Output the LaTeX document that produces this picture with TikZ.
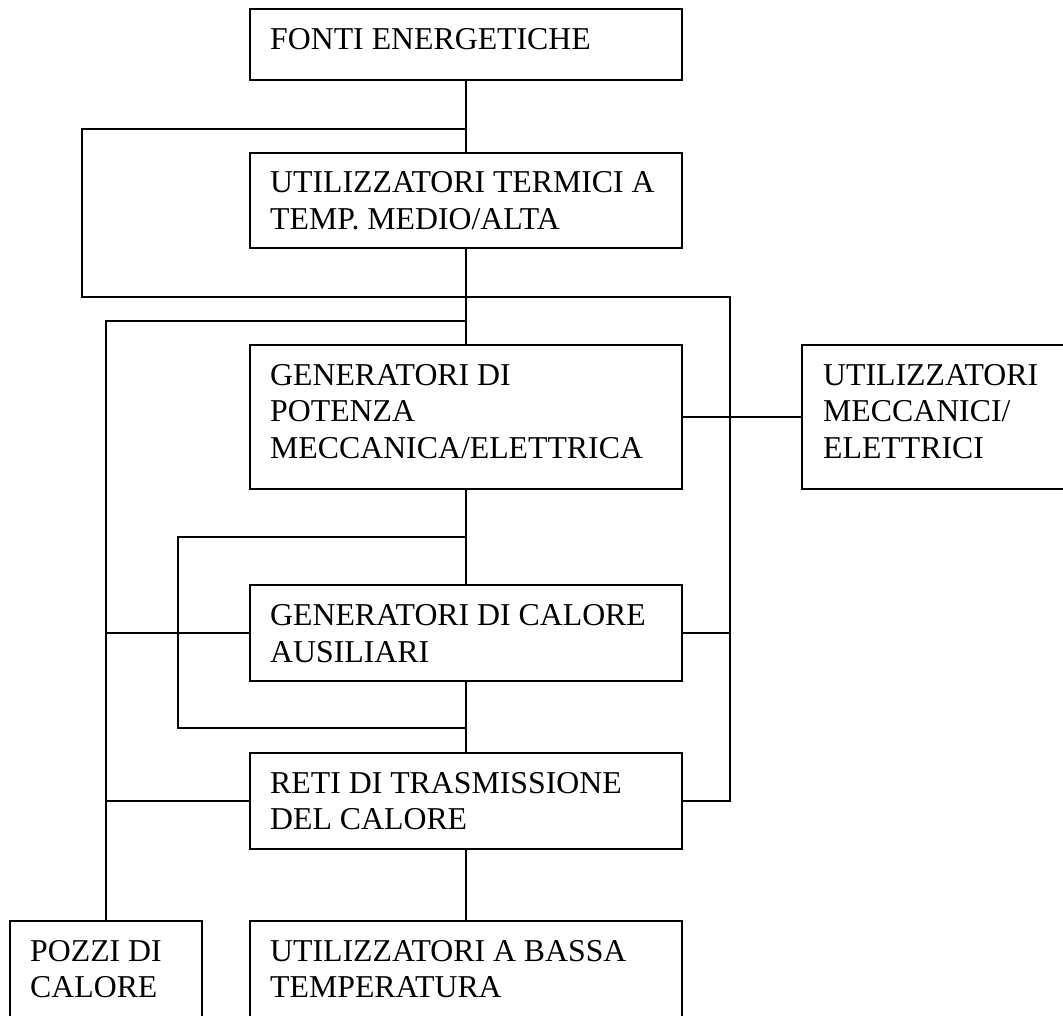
\documentclass[tikz,border=0pt]{standalone}
\usepackage{fontspec}
\setmainfont{Liberation Serif}
\begin{document}
\begin{tikzpicture}[x=1pt, y=-1pt,
  box/.style={draw, line width=1.6pt, inner sep=0pt, outer sep=0pt, anchor=north west},
  txt/.style={anchor=base west, align=left, inner sep=0pt,
              font=\fontsize{31.8}{36.7}\selectfont},
  link/.style={line width=1.6pt}]
  \useasboundingbox (0,0) rectangle (1063,1016);
  \clip (0,0) rectangle (1063,1016);

  % boxes (top-left corner, size)
  \node[box, minimum width=432pt, minimum height=71pt]  (fonti)  at (250,9)   {};
  \node[box, minimum width=432pt, minimum height=95pt]  (term)   at (250,153) {};
  \node[box, minimum width=432pt, minimum height=144pt] (genpot) at (250,345) {};
  \node[box, minimum width=280pt, minimum height=144pt] (mecc)   at (802,345) {};
  \node[box, minimum width=432pt, minimum height=96pt]  (gencal) at (250,585) {};
  \node[box, minimum width=432pt, minimum height=96pt]  (reti)   at (250,753) {};
  \node[box, minimum width=192pt, minimum height=120pt] (pozzi)  at (10,921)  {};
  \node[box, minimum width=432pt, minimum height=120pt] (bassa)  at (250,921) {};

  % labels, placed by the baseline of their last line
  \node[txt] (fonti-t)  at (270,50)    {FONTI ENERGETICHE};
  \node[txt] (term-t)   at (270,229.7) {UTILIZZATORI TERMICI A\\TEMP. MEDIO/ALTA};
  \node[txt] (genpot-t) at (270,458.4) {GENERATORI DI\\POTENZA\\MECCANICA/ELETTRICA};
  \node[txt] (mecc-t)   at (823,458.4) {UTILIZZATORI\\MECCANICI/\\ELETTRICI};
  \node[txt] (gencal-t) at (270,662)   {GENERATORI DI CALORE\\AUSILIARI};
  \node[txt] (reti-t)   at (270,829.7) {RETI DI TRASMISSIONE\\DEL CALORE};
  \node[txt] (pozzi-t)  at (30,997.7)  {POZZI DI\\CALORE};
  \node[txt] (bassa-t)  at (270,997.7) {UTILIZZATORI A BASSA\\TEMPERATURA};

  % junction points on the main trunk
  \coordinate (j1) at (466,129);
  \coordinate (j2) at (466,297);
  \coordinate (j3) at (466,321);
  \coordinate (j4) at (466,537);
  \coordinate (j5) at (466,728);

  % main trunk
  \draw[link] (fonti.south) -- (term.north);
  \draw[link] (term.south) -- (genpot.north);
  \draw[link] (genpot.south) -- (gencal.north);
  \draw[link] (gencal.south) -- (reti.north);
  \draw[link] (reti.south) -- (bassa.north);

  % bypass of the thermal users
  \draw[link] (j1) -- (82,129) -- (82,297) -- (j2);
  % bypass of the auxiliary heat generators
  \draw[link] (j4) -- (178,537) -- (178,728) -- (j5);

  % right collector
  \draw[link] (j2) -- (730,297) -- (730,801) -- (reti.east);
  \draw[link] (gencal.east) -- (730,633);
  \draw[link] (genpot.east) -- (mecc.west);

  % left collector to the heat sinks
  \draw[link] (j3) -- (106,321) -- (pozzi.north -| 106,0);
  \draw[link] (gencal.west) -- (106,633);
  \draw[link] (reti.west) -- (106,801);
\end{tikzpicture}
\end{document}
